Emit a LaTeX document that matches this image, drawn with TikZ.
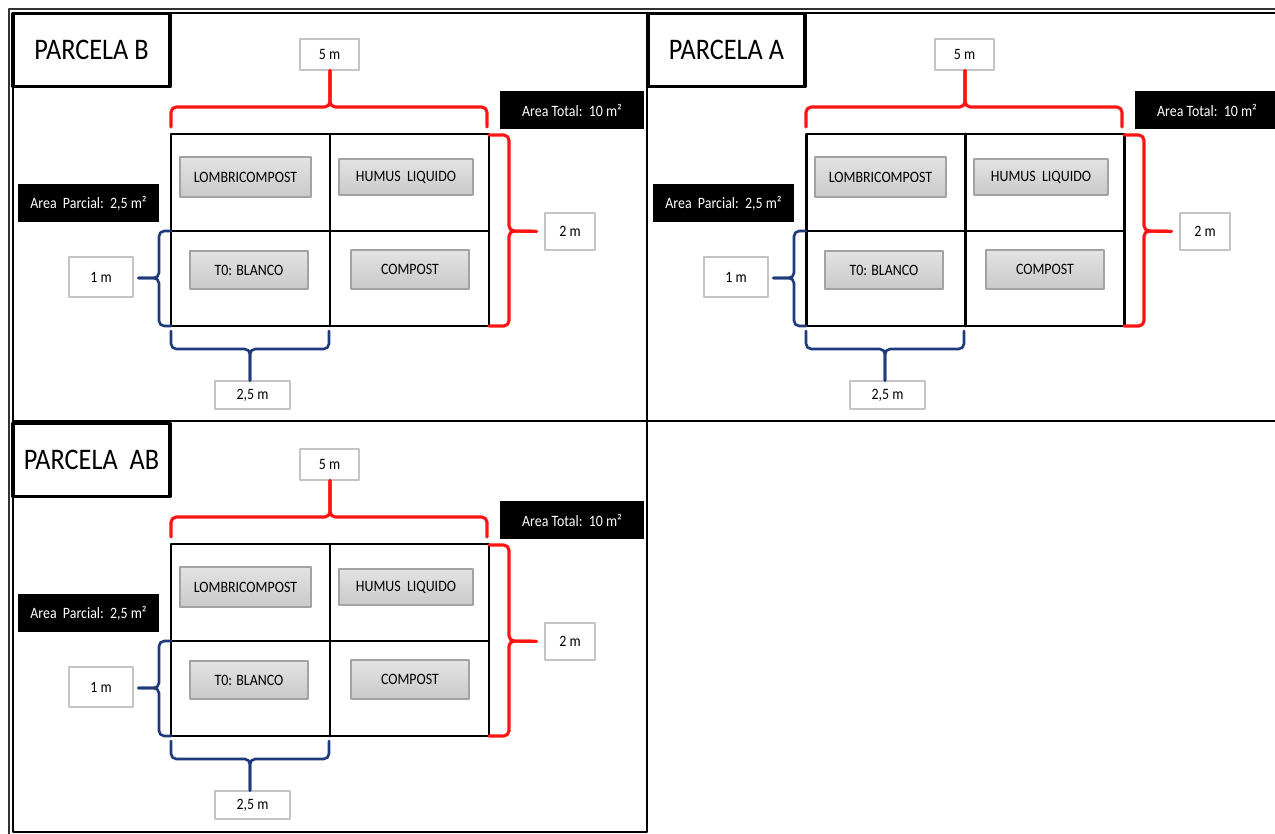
\documentclass[tikz,border=0pt]{standalone}
\usepackage{fontspec}
\setmainfont{Carlito}[FakeStretch=0.88]
\usetikzlibrary{positioning}
\definecolor{rojo}{HTML}{FF1414}
\definecolor{azul}{HTML}{1F3A7A}
\definecolor{borde}{HTML}{A3A3A3}
\definecolor{claro}{HTML}{C4C4C4}

\begin{document}
\begin{tikzpicture}[x=0.02cm, y=-0.02cm, line join=round, line cap=round,
	font=\fontsize{9}{10}\selectfont,
	medida/.style={draw=claro, fill=white, line width=0.6pt, inner sep=0pt},
	trat/.style={draw=borde, top color=gray!22, bottom color=gray!42, line width=0.6pt, inner sep=0pt},
	area/.style={fill=black, text=white, inner sep=0pt},
	titulo/.style={draw, line width=1.9pt, fill=white, inner sep=0pt, font=\fontsize{17}{19}\selectfont},
	llaveroja/.style={draw=rojo, line width=1.8pt, rounded corners=3pt},
	llaveazul/.style={draw=azul, line width=1.5pt, rounded corners=3pt}]
	\useasboundingbox (0,0) rectangle (1275,834);
	
	% marco
	\draw[line width=1pt, black!80] (9,834) -- (9,9) -- (1275,9);
	\draw[line width=1.6pt]
	(13,13) -- (1275,13)
	(13,13) -- (13,832) -- (647,832) -- (647,13)
	(13,421) -- (1275,421);
	
	\foreach \dx/\dy/\p/\nom in {0/0/b/PARCELA B, 635/0/a/PARCELA A, 0/410/ab/PARCELA\ \ AB}{
		\begin{scope}[shift={(\dx,\dy)}]
			\node[titulo, minimum width=157*0.02cm, minimum height=73*0.02cm] (tit\p) at (91.5,50) {\nom};
			
			% parcela 2 x 2
			\draw[line width=1.7pt]
			(171,134) rectangle (489,326)
			(330,134) -- (330,326)
			(171,231) -- (489,231);
			
			\node[trat, minimum width=131*0.02cm, minimum height=40*0.02cm] (lom\p) at (245.5,177) {LOMBRICOMPOST};
			\node[trat, minimum width=134*0.02cm, minimum height=36*0.02cm] (hum\p) at (406,177) {HUMUS\ \ LIQUIDO};
			\node[trat, minimum width=118*0.02cm, minimum height=38*0.02cm] (blan\p) at (249,270) {T0: BLANCO};
			\node[trat, minimum width=118*0.02cm, minimum height=39*0.02cm] (comp\p) at (410,269.5) {COMPOST};
			
			\node[medida, minimum width=59*0.02cm, minimum height=31*0.02cm] (m5\p) at (329.5,54.5) {5 m};
			\node[medida, minimum width=50*0.02cm, minimum height=37*0.02cm] (m2\p) at (570,231.5) {2 m};
			\node[medida, minimum width=64*0.02cm, minimum height=40*0.02cm] (m1\p) at (101,277) {1 m};
			\node[medida, minimum width=75*0.02cm, minimum height=28*0.02cm] (m25\p) at (252.5,395) {2,5 m};
			
			\node[area, minimum width=144*0.02cm, minimum height=38*0.02cm] (tot\p) at (572,110) {Area Total:\ \ 10 m²};
			\node[area, minimum width=141*0.02cm, minimum height=38*0.02cm] (par\p) at (88.5,203) {Area\ \ Parcial:\ \ 2,5 m²};
			
			% llaves
			\draw[llaveroja] (171,127) |- (330,107) -- (330,107 |- m5\p.south);
			\draw[llaveroja] (487,127) |- (330,107) -- (330,107 |- m5\p.south);
			\draw[llaveroja, shorten >=0.16cm] (489,135) -| (509,231) -- (m2\p.west);
			\draw[llaveroja, shorten >=0.16cm] (489,326) -| (509,231) -- (m2\p.west);
			\draw[llaveazul, shorten >=0.1cm] (171,231) -| (159,278) -- (m1\p.east |- 159,278);
			\draw[llaveazul, shorten >=0.1cm] (171,326) -| (159,278) -- (m1\p.east |- 159,278);
			\draw[llaveazul] (171,331) |- (250,349) -- (250,349 |- m25\p.north);
			\draw[llaveazul] (329,331) |- (250,349) -- (250,349 |- m25\p.north);
		\end{scope}
	}
\end{tikzpicture}
\end{document}
